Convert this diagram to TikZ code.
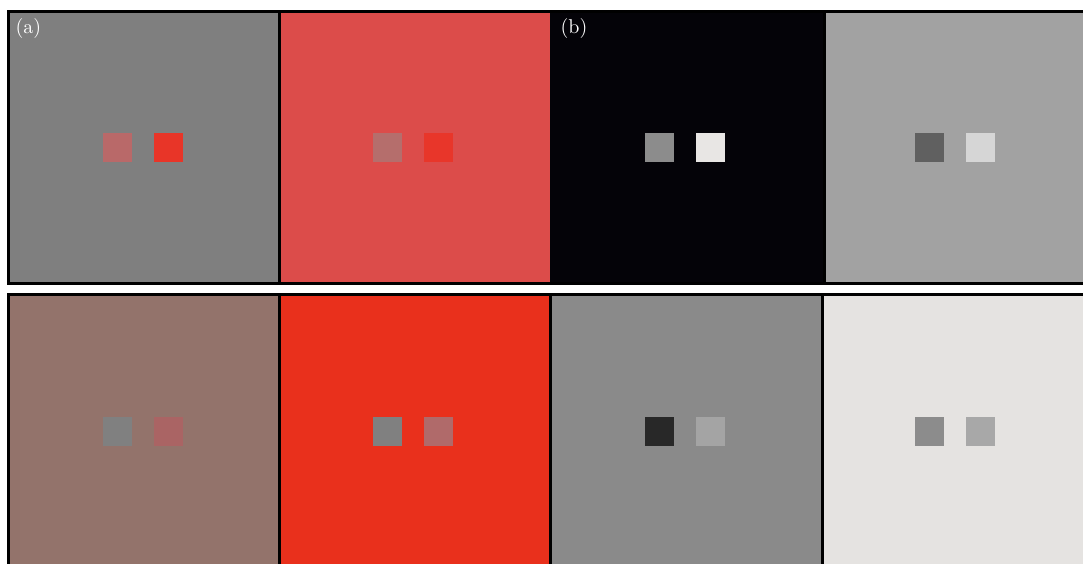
\documentclass[tikz,border=0pt]{standalone}
\usepackage{fontspec}
\newfontfamily\labfont{lmroman10-regular}[Extension=.otf]
\definecolor{bgA}{RGB}{127,127,127}
\definecolor{sqA1}{RGB}{185,105,105}
\definecolor{sqA2}{RGB}{232,53,40}
\definecolor{bgB}{RGB}{220,76,74}
\definecolor{sqB1}{RGB}{181,110,108}
\definecolor{sqB2}{RGB}{232,54,42}
\definecolor{bgC}{RGB}{4,3,8}
\definecolor{sqC1}{RGB}{140,140,140}
\definecolor{sqC2}{RGB}{232,230,228}
\definecolor{bgD}{RGB}{162,162,162}
\definecolor{sqD1}{RGB}{96,96,96}
\definecolor{sqD2}{RGB}{214,214,214}
\definecolor{bgE}{RGB}{147,115,107}
\definecolor{sqE1}{RGB}{128,128,128}
\definecolor{sqE2}{RGB}{170,100,100}
\definecolor{bgF}{RGB}{233,48,28}
\definecolor{sqF1}{RGB}{128,128,128}
\definecolor{sqF2}{RGB}{176,106,106}
\definecolor{bgG}{RGB}{138,138,138}
\definecolor{sqG1}{RGB}{40,40,40}
\definecolor{sqG2}{RGB}{164,164,164}
\definecolor{bgH}{RGB}{229,227,225}
\definecolor{sqH1}{RGB}{140,140,140}
\definecolor{sqH2}{RGB}{168,168,168}
\tikzset{
  frameline/.style={draw=black, line width=3pt},
  panellabel/.style={text=white, anchor=north west, inner sep=0pt, font=\labfont\fontsize{20}{22}\selectfont},
}
% #1 panel left x, #2 panel top y, #3 right x, #4 bg, #5 sq left x, #6 sq1 col, #7 sq2 col
\newcommand{\mypanel}[7]{%
  \fill[#4] (#1,#2) rectangle (#3,#2+275);
  \fill[#6] (#5,#2+121) rectangle (#5+29,#2+150);
  \fill[#7] (#5+51,#2+121) rectangle (#5+80,#2+150);
}
\begin{document}
\begin{tikzpicture}[x=1pt,y=-1pt]
\useasboundingbox (0,0) rectangle (1083,563);
\clip (0,0) rectangle (1083,563);
\fill[white] (0,0) rectangle (1083,563);
% top row
\mypanel{8}{12}{280}{bgA}{103}{sqA1}{sqA2}
\mypanel{280}{12}{551}{bgB}{373}{sqB1}{sqB2}
\mypanel{550}{12}{825}{bgC}{645}{sqC1}{sqC2}
\mypanel{824}{12}{1090}{bgD}{915}{sqD1}{sqD2}
\fill[white] (0,283) rectangle (1083,293);
% bottom row
\mypanel{8}{296}{280}{bgE}{103}{sqE1}{sqE2}
\mypanel{280}{296}{551}{bgF}{373}{sqF1}{sqF2}
\mypanel{550}{296}{823}{bgG}{645}{sqG1}{sqG2}
\mypanel{822}{296}{1090}{bgH}{915}{sqH1}{sqH2}
% frames
\draw[frameline] (1095,11) -- (8.5,11) -- (8.5,283.5) -- (1095,283.5);
\draw[frameline] (279.5,11) -- (279.5,283.5);
\draw[frameline] (824,11) -- (824,283.5);
\draw[frameline] (1095,294.5) -- (8.5,294.5) -- (8.5,570);
\draw[frameline] (279.5,294.5) -- (279.5,570);
\draw[frameline] (550.5,294.5) -- (550.5,570);
\draw[frameline] (822,294.5) -- (822,570);
% labels
\node[panellabel] (la) at (15.5,18) {(a)};
\node[panellabel] (lb) at (560.5,18) {(b)};
\end{tikzpicture}
\end{document}
